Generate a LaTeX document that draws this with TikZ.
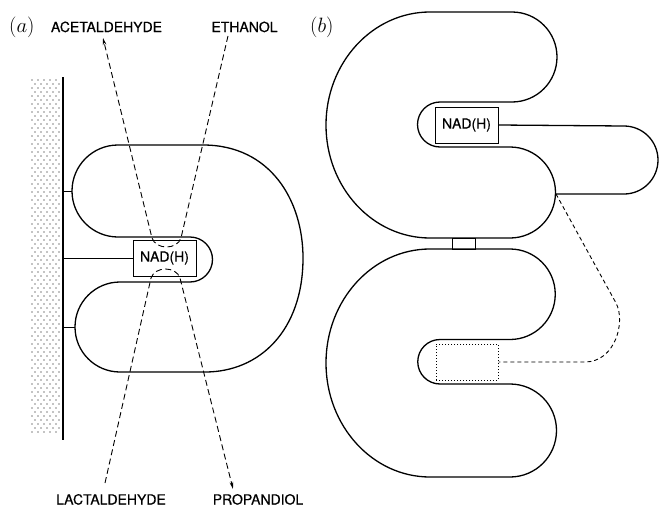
\documentclass[tikz,border=0pt]{standalone}
\usepackage{fontspec}
\setsansfont{TeX Gyre Heros}
\newfontfamily\lblfont[FakeBold=0.5]{TeX Gyre Heros}
\usetikzlibrary{arrows.meta}
\tikzset{
  outline/.style={line width=1.3pt, line join=round},
  thin line/.style={line width=1pt},
  lbl/.style={font=\lblfont\fontsize{14}{16}\selectfont, inner sep=0pt, anchor=base},
  nadbox/.style={draw, line width=1pt, minimum width=63pt, minimum height=36pt, inner sep=0pt, font=\lblfont\fontsize{14}{16}\selectfont},
  emptybox/.style={draw, dotted, line width=1pt, minimum width=62pt, minimum height=36pt, inner sep=0pt},
  longdash/.style={line width=0.9pt, dash pattern=on 6pt off 3.5pt},
  shortdash/.style={line width=0.9pt, dash pattern=on 4pt off 3pt},
  tip/.style={-{Stealth[length=7pt,width=3.5pt]}},
  panel/.style={inner sep=0pt, anchor=base west, font=\fontsize{20}{24}\selectfont}
}
\begin{document}
\begin{tikzpicture}[x=1pt,y=-1pt]
\useasboundingbox (0,0) rectangle (659,506);
\fill[white] (0,0) rectangle (659,506);

% ---------------- panel (a) ----------------
\node[panel] (pa) at (9,32) {$(a)$};
\node[lbl] (acet) at (106.5,32) {ACETALDEHYDE};
\node[lbl] (etoh) at (244.5,32) {ETHANOL};
\node[lbl] (lact) at (111,504.5) {LACTALDEHYDE};
\node[lbl] (prop) at (258,504.5) {PROPANDIOL};

% wall with dotted texture
\foreach \r in {0,...,88}{
  \pgfmathsetmacro{\yy}{80+4*\r}
  \pgfmathsetmacro{\xo}{mod(\r,2)*3}
  \foreach \c in {0,...,4}{
    \fill (32+\xo+6*\c,\yy) circle[radius=0.7pt];
  }
}
\draw[line width=1.5pt] (63,77) -- (63,440);

% protein outline
\draw[outline] (118,237) arc[start angle=90,end angle=270,radius=46]
  -- (203,145) .. controls (270,145) and (303,200) .. (303,258)
  .. controls (303,330) and (260,372) .. (205,372)
  -- (120,372) arc[start angle=90,end angle=270,radius=45]
  -- (190,282) arc[start angle=90,end angle=-90,radius=22.5] -- cycle;

\node[nadbox] (nada) at (164.5,258) {NAD(H)};

% stems to the wall
\coordinate (w1) at (63,191);
\coordinate (w2) at (63,258);
\coordinate (w3) at (63,327);
\coordinate (l1) at (72,191);
\coordinate (l3) at (75,327);
\draw[thin line] (w1) -- (l1);
\draw[thin line] (w2) -- (nada.west);
\draw[thin line] (w3) -- (l3);

% substrate paths
\coordinate (etohTop) at (228,36);
\coordinate (acetTip) at (103,38);
\coordinate (lactBot) at (105,483);
\coordinate (propTip) at (233,489);
\draw[longdash,tip] (etohTop) -- (181,238) .. controls (177,250) and (156,250) .. (152,238) -- (acetTip);
\draw[longdash,tip] (lactBot) -- (151,278) .. controls (155,266) and (176,266) .. (180,278) -- (propTip);

% ---------------- panel (b) ----------------
\node[panel] (pb) at (310,32) {$(b)$};

% upper C
\draw[outline] (430,12) -- (512,12) arc[start angle=-90,end angle=90,radius=45]
  -- (440,102) arc[start angle=-90,end angle=-270,radius=22.5]
  -- (510,147) arc[start angle=-90,end angle=90,radius=45.5]
  -- (430,238) arc[start angle=90,end angle=270,x radius=104,y radius=113] -- cycle;
\node[nadbox] (nadb) at (466.5,125) {NAD(H)};

% appendage
\coordinate (junc) at (556,194);
\draw[outline] (nadb.east) -- (624,126) arc[start angle=-90,end angle=90,radius=34] -- (junc);

% link between the two halves
\draw[thin line] (452,238) rectangle (475,249);

% lower C
\draw[outline] (430,249) -- (510,249) arc[start angle=-90,end angle=90,radius=45.25]
  -- (440,339.5) arc[start angle=-90,end angle=-270,radius=22.25]
  -- (510,384) arc[start angle=-90,end angle=90,radius=46.5]
  -- (430,477) arc[start angle=90,end angle=270,x radius=104,y radius=114] -- cycle;
\node[emptybox] (site) at (467,362) {};

% dashed tether
\draw[shortdash] (junc) -- (616,303) .. controls (626,322) and (615,362) .. (585,362) -- (site.east);
\end{tikzpicture}
\end{document}
